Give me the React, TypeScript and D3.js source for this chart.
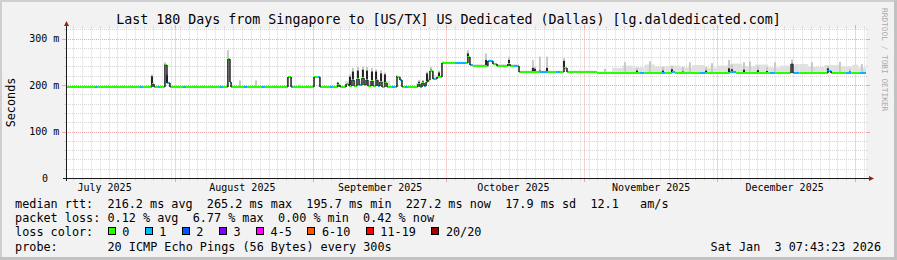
import React from "react";
import * as d3 from "d3";

// ---------------- data ----------------
const START = "2025-07-07T07:43:23";
const END = "2026-01-03T07:43:23";
const TITLE = "Last 180 Days from Singapore to [US/TX] US Dedicated (Dallas) [lg.daldedicated.com]";
const Y_TITLE = "Seconds";
const Y_MAX = 322.6;
const yTickValues = [0, 100, 200, 300];
const yTickLabels = ["0", "100 m", "200 m", "300 m"];

// median rtt (ms) as a step series, with number of lost pings per interval
const medianTimes = [
  "2025-07-07T07:43", "2025-07-13T20:00", "2025-07-14T07:00", "2025-07-23T23:00", "2025-07-24T15:00",
  "2025-07-26T16:00", "2025-07-27T03:00", "2025-07-28T00:00", "2025-07-28T11:00", "2025-07-29T14:00",
  "2025-07-30T01:00", "2025-07-30T17:00", "2025-08-02T15:00", "2025-08-03T08:00", "2025-08-10T23:00",
  "2025-08-11T15:00", "2025-08-12T18:00", "2025-08-13T05:00", "2025-08-13T11:00", "2025-08-16T09:00",
  "2025-08-17T01:00", "2025-08-20T10:00", "2025-08-21T02:00", "2025-08-26T06:00", "2025-08-26T23:00",
  "2025-08-27T09:00", "2025-09-01T03:00", "2025-09-02T00:00", "2025-09-02T11:00", "2025-09-04T17:00",
  "2025-09-05T09:00", "2025-09-06T12:00", "2025-09-06T23:00", "2025-09-08T08:00", "2025-09-09T00:00",
  "2025-09-09T16:00", "2025-09-10T03:00", "2025-09-10T19:00", "2025-09-11T06:00", "2025-09-11T22:00",
  "2025-09-12T09:00", "2025-09-12T20:00", "2025-09-13T06:00", "2025-09-13T23:00", "2025-09-14T09:00",
  "2025-09-15T02:00", "2025-09-15T12:00", "2025-09-15T23:00", "2025-09-16T10:00", "2025-09-17T02:00",
  "2025-09-17T13:00", "2025-09-18T16:00", "2025-09-19T08:00", "2025-09-19T19:00", "2025-09-20T11:00",
  "2025-09-20T22:00", "2025-09-21T14:00", "2025-09-22T06:00", "2025-09-24T12:00", "2025-09-24T23:00",
  "2025-09-25T10:00", "2025-09-25T21:00", "2025-09-26T08:00", "2025-09-26T18:00", "2025-09-27T05:00",
  "2025-09-27T21:00", "2025-09-28T08:00", "2025-09-28T19:00", "2025-09-29T22:00", "2025-10-02T20:00",
  "2025-10-05T08:00", "2025-10-05T18:00", "2025-10-06T05:00", "2025-10-06T21:00", "2025-10-10T06:00",
  "2025-10-11T09:00", "2025-10-12T07:00", "2025-10-14T18:00", "2025-10-15T05:00", "2025-10-16T03:00",
  "2025-10-17T00:00", "2025-10-17T06:00", "2025-10-21T23:00", "2025-10-23T18:00", "2025-10-25T14:00",
  "2025-10-26T11:00", "2025-10-27T09:00", "2025-10-28T01:00", "2025-11-03T19:00", "2025-11-13T11:00",
  "2025-11-14T12:00", "2025-11-18T10:00", "2025-11-19T06:00", "2025-11-20T16:00", "2025-11-21T08:00",
  "2025-11-26T23:00", "2025-11-28T06:00", "2025-12-03T17:00", "2025-12-05T02:00", "2025-12-12T17:00",
  "2025-12-13T23:00", "2025-12-17T11:00", "2025-12-17T21:00", "2025-12-19T08:00", "2025-12-25T18:00",
  "2025-12-26T11:00", "2025-12-29T20:00", "2025-12-31T02:00", "2026-01-01T23:00",
];
const medianMs = [
  196, 196, 196, 196, 196, 203, 196, 196, 196, 245,
  205, 196, 196, 196, 196, 196, 258, 208, 196, 196,
  196, 196, 196, 218, 196, 196, 219, 219, 196, 196,
  196, 202, 196, 204, 198, 212, 200, 214, 201, 216,
  202, 212, 200, 210, 199, 212, 200, 208, 197, 206,
  196, 196, 196, 218, 212, 196, 196, 196, 203, 197,
  205, 198, 207, 212, 231, 213, 213, 218, 248, 248,
  248, 262, 244, 243, 252, 247, 243, 247, 243, 243,
  243, 229, 229, 229, 229, 229, 238, 229, 227, 227,
  227, 227, 227, 229, 227, 227, 227, 229, 227, 227,
  227, 246, 227, 227, 232, 227, 227, 227, 227,
];
const medianLoss = [
  0, 1, 0, 1, 0, 0, 0, 1, 0, 0,
  1, 0, 1, 0, 1, 0, 0, 1, 0, 1,
  0, 1, 0, 0, 1, 0, 0, 1, 0, 1,
  0, 0, 0, 0, 0, 1, 0, 0, 1, 0,
  0, 1, 0, 0, 0, 0, 1, 0, 0, 0,
  0, 1, 0, 0, 1, 0, 1, 0, 0, 0,
  0, 1, 0, 0, 0, 1, 0, 0, 0, 1,
  0, 0, 1, 0, 1, 0, 0, 0, 0, 1,
  0, 0, 1, 0, 1, 0, 0, 0, 0, 1,
  0, 1, 0, 1, 0, 1, 0, 1, 0, 1,
  0, 1, 1, 0, 1, 0, 1, 0, 1,
];

// smoke spikes: dense (dark) top and sparse (light) top in ms
const spikeTimes = [
  "2025-07-26T16:00", "2025-07-29T14:00", "2025-07-30T01:00", "2025-07-30T12:00", "2025-08-12T18:00",
  "2025-08-15T11:00", "2025-08-19T02:00", "2025-08-28T23:00", "2025-09-06T12:00", "2025-09-09T05:00",
  "2025-09-09T21:00", "2025-09-11T00:00", "2025-09-12T03:00", "2025-09-13T01:00", "2025-09-14T04:00",
  "2025-09-15T02:00", "2025-09-16T05:00", "2025-09-17T02:00", "2025-09-19T19:00", "2025-09-24T18:00",
  "2025-09-25T15:00", "2025-09-26T13:00", "2025-09-27T11:00", "2025-09-29T06:00", "2025-09-30T03:00",
  "2025-10-05T18:00", "2025-10-09T20:00", "2025-10-10T17:00", "2025-10-15T00:00", "2025-10-20T09:00",
  "2025-10-20T20:00", "2025-10-21T23:00", "2025-10-23T13:00", "2025-10-27T09:00", "2025-11-05T14:00",
  "2025-11-10T02:00", "2025-11-12T19:00", "2025-11-15T17:00", "2025-11-18T15:00", "2025-11-20T16:00",
  "2025-11-23T03:00", "2025-11-24T17:00", "2025-11-28T08:00", "2025-11-29T16:00", "2025-12-03T12:00",
  "2025-12-04T04:00", "2025-12-06T21:00", "2025-12-08T05:00", "2025-12-10T00:00", "2025-12-12T01:00",
  "2025-12-13T20:00", "2025-12-17T16:00", "2025-12-22T04:00", "2025-12-25T18:00", "2025-12-28T11:00",
  "2025-12-30T17:00", "2026-01-02T10:00",
];
const spikeDark = [
  220, 246, 222, 206, 258, 199, 199, 198, 206, 219,
  230, 232, 234, 232, 230, 230, 226, 224, 220, 208,
  209, 226, 234, 228, 250, 269, 255, 254, 255, 238,
  236, 232, 238, 253, 227, 227, 232, 227, 232, 235,
  230, 227, 232, 227, 237, 235, 234, 227, 233, 231,
  227, 248, 227, 237, 227, 230, 227,
];
const spikeLight = [
  224, 250, 226, 208, 276, 211, 211, 202, 208, 224,
  238, 240, 241, 240, 238, 235, 233, 228, 222, 212,
  212, 230, 240, 232, 252, 276, 269, 256, 262, 255,
  240, 262, 262, 259, 236, 250, 238, 252, 240, 242,
  240, 250, 240, 248, 255, 245, 250, 252, 242, 240,
  250, 256, 250, 242, 251, 236, 246,
];

// upper edge of the light smoke (ms), step series
const hazeTimes = [
  "2025-07-07T07:43", "2025-09-08T02:00", "2025-09-18T05:00", "2025-09-24T02:00", "2025-09-26T13:00",
  "2025-09-29T22:00", "2025-10-06T05:00", "2025-10-17T06:00", "2025-11-03T19:00", "2025-11-07T04:00",
  "2025-11-09T10:00", "2025-11-11T16:00", "2025-11-14T14:00", "2025-11-16T20:00", "2025-11-19T18:00",
  "2025-11-22T11:00", "2025-11-25T04:00", "2025-11-28T02:00", "2025-12-01T00:00", "2025-12-03T17:00",
  "2025-12-06T10:00", "2025-12-09T08:00", "2025-12-12T06:00", "2025-12-14T23:00", "2025-12-18T08:00",
  "2025-12-21T06:00", "2025-12-24T23:00", "2025-12-28T08:00", "2025-12-31T06:00", "2026-01-01T12:00",
];
const hazeTop = [
  198.5, 210, 199, 206, 222, 251, 246, 232, 230, 238,
  243, 239, 245, 241, 243, 239, 244, 238, 243, 247,
  242, 245, 239, 243, 246, 240, 244, 241, 245, 239,
];

const rttStatValues = [216.2, 265.2, 195.7, 227.2];
const statNames = ["avg", "max", "min", "now"];
const rttSd = 17.9;
const rttAmS = 12.1;
const lossStatValues = [0.12, 6.77, 0.0, 0.42];
const lossLabels = ["0", "1", "2", "3", "4-5", "6-10", "11-19", "20/20"];
const lossColors = ["#26ff00", "#00b8ff", "#0059ff", "#7e00ff", "#ff00ff", "#ff5500", "#ff0000", "#a10000"];
const PROBE = "20 ICMP Echo Pings (56 Bytes) every 300s";
const STAMP = "Sat Jan  3 07:43:23 2026";
const WATERMARK = "RRDTOOL / TOBI OETIKER";

// ---------------- drawing ----------------
const parse = (s: string) => new Date(s + (s.length <= 16 ? ":00Z" : "Z"));
const lossIndex = (n: number) =>
  n <= 3 ? n : n <= 5 ? 4 : n <= 10 ? 5 : n <= 19 ? 6 : 7;

const FONT = "'DejaVu Sans Mono', monospace";
const GRID = "#d6d6d6";
const MGRID = "#eda4a4";
const AXIS = "#1a1a1a";
const ARROW = "#a01c1c";

export default function App() {
  const start = parse(START);
  const end = parse(END);
  const x = d3.scaleUtc().domain([start, end]).range([66, 866]);
  const y = d3.scaleLinear().domain([0, Y_MAX]).range([178.5, 28.5]);

  const mT = medianTimes.map(parse);
  const hT = hazeTimes.map(parse);
  const bis = d3.bisector((d: Date) => d).right;
  const medAt = (t: Date) => medianMs[Math.max(0, bis(mT, t) - 1)];
  const hazeAt = (t: Date) => {
    const i = bis(hT, t) - 1;
    return i < 0 ? 0 : hazeTop[i];
  };

  // grid
  const hGrid = d3.range(20, Y_MAX, 20);
  const days = d3.utcDay
    .range(start, end)
    .filter((d) => Math.floor(d.getTime() / 864e5) % 2 === 0 && d.getUTCDate() !== 1);
  const months = d3.utcMonth.range(start, end);
  const labelMonths = d3.utcMonth
    .range(d3.utcMonth.floor(start), end)
    .map((m) => ({ m, pos: x(d3.utcDay.offset(m, 15)) }))
    .filter((o) => o.pos > 66 && o.pos < 866);
  const fmtMonth = d3.utcFormat("%B %Y");

  // haze rects
  const allT = Array.from(new Set([...mT, ...hT].map((d) => +d)))
    .sort((a, b) => a - b)
    .map((v) => new Date(v));
  const hazeRects = allT.map((t0, i) => {
    const t1 = i + 1 < allT.length ? allT[i + 1] : end;
    const top = hazeAt(t0);
    const med = medAt(t0);
    return { x0: x(t0), x1: x(t1), top: Math.max(top, med), med };
  });

  // median segments
  const segs = mT.map((t0, i) => {
    const t1 = i + 1 < mT.length ? mT[i + 1] : end;
    return {
      x0: x(t0),
      x1: x(t1),
      yy: Math.round(y(medianMs[i])),
      color: lossColors[lossIndex(medianLoss[i])],
      next: i + 1 < mT.length ? Math.round(y(medianMs[i + 1])) : null,
    };
  });

  const spikes = spikeTimes.map((s, i) => {
    const t = parse(s);
    return { cx: x(t), dark: spikeDark[i], light: spikeLight[i], med: medAt(t) };
  });

  // legend
  const X0 = 15.1;
  const CW = 7.11;
  const LFS = 11.8;
  const row1 =
    "median rtt:  " +
    rttStatValues.map((v, i) => `${v.toFixed(1)} ms ${statNames[i]}`).join("  ") +
    `  ${rttSd.toFixed(1)} ms sd  ${rttAmS.toFixed(1)}   am/s`;
  const row2 =
    "packet loss: " + lossStatValues.map((v, i) => `${v.toFixed(2)} % ${statNames[i]}`).join("  ");
  const boxes: { bx: number; label: string; color: string }[] = [];
  let bx = X0 + 13 * CW;
  lossLabels.forEach((label, i) => {
    boxes.push({ bx, label, color: lossColors[i] });
    bx = bx + 14.6 + label.length * CW + 15.4;
  });
  const rowY = [208.3, 222.4, 236.4, 250.5];

  const textStyle: React.CSSProperties = { whiteSpace: "pre" };

  return (
    <svg
      width={897}
      height={260}
      style={{ position: "absolute", left: 0, top: 0, display: "block" }}
      fontFamily={FONT}
    >
      {/* background and frame */}
      <rect x={0} y={0} width={897} height={260} fill="#f2f2f2" />
      <rect x={0} y={0} width={897} height={2} fill="#cfcfcf" />
      <rect x={0} y={0} width={2} height={260} fill="#cfcfcf" />
      <rect x={0} y={257} width={897} height={3} fill="#c2c2c2" />
      <rect x={894} y={0} width={3} height={260} fill="#c2c2c2" />

      {/* canvas */}
      <rect x={66} y={28.5} width={800} height={150} fill="#ffffff" />

      {/* horizontal grid */}
      {hGrid.map((v) => {
        const yy = Math.floor(y(v)) + 0.5;
        const major = v % 100 === 0;
        const c = major ? MGRID : GRID;
        const ext = major ? 4 : 2;
        return (
          <g key={"h" + v}>
            <line x1={66} x2={866} y1={yy} y2={yy} stroke={c} strokeDasharray="1,1" />
            <line x1={66 - ext} x2={66} y1={yy} y2={yy} stroke={c} />
            <line x1={866} x2={866 + ext} y1={yy} y2={yy} stroke={c} />
          </g>
        );
      })}
      {/* vertical grid */}
      {days.map((d) => {
        const xx = Math.floor(x(d)) + 0.5;
        return (
          <g key={"d" + +d}>
            <line x1={xx} x2={xx} y1={28.5} y2={178.5} stroke={GRID} strokeDasharray="1,1" />
            <line x1={xx} x2={xx} y1={178.5} y2={180.5} stroke={GRID} />
            <line x1={xx} x2={xx} y1={26.5} y2={28.5} stroke={GRID} />
          </g>
        );
      })}
      {months.map((d) => {
        const xx = Math.floor(x(d)) + 0.5;
        return (
          <g key={"m" + +d}>
            <line x1={xx} x2={xx} y1={28.5} y2={178.5} stroke={MGRID} strokeDasharray="1,1" />
            <line x1={xx} x2={xx} y1={178.5} y2={182} stroke={MGRID} />
            <line x1={xx} x2={xx} y1={25} y2={28.5} stroke={MGRID} />
          </g>
        );
      })}

      {/* light smoke */}
      {hazeRects.map((r, i) =>
        r.top > r.med ? (
          <rect
            key={"hz" + i}
            x={r.x0}
            width={Math.max(0, r.x1 - r.x0)}
            y={y(r.top)}
            height={y(r.med) - y(r.top)}
            fill="#e0e0e0"
          />
        ) : null
      )}
      {spikes.map((s, i) => (
        <rect
          key={"sl" + i}
          x={s.cx - 1}
          width={2}
          y={y(s.light)}
          height={Math.max(0, y(s.med) - y(s.light))}
          fill="#c8c8c8"
        />
      ))}
      {spikes.map((s, i) => (
        <rect
          key={"sd" + i}
          x={s.cx - 1}
          width={2}
          y={y(s.dark)}
          height={Math.max(0, y(s.med) - y(s.dark))}
          fill="#222222"
        />
      ))}

      {/* median line */}
      {segs.map((s, i) => (
        <line key={"ms" + i} x1={s.x0} x2={s.x1} y1={s.yy} y2={s.yy} stroke={s.color} strokeWidth={2} />
      ))}
      {segs.map((s, i) =>
        s.next !== null && Math.abs(s.next - s.yy) > 1 ? (
          <line
            key={"mc" + i}
            x1={s.x1}
            x2={s.x1}
            y1={s.yy}
            y2={s.next}
            stroke="#1e1e1e"
            strokeWidth={1.5}
          />
        ) : null
      )}

      {/* axes */}
      <line x1={63} x2={869} y1={178.5} y2={178.5} stroke={AXIS} />
      <line x1={66.5} x2={66.5} y1={181} y2={25} stroke={AXIS} />
      <polygon points="64,26 69,26 66.5,21" fill={ARROW} />
      <polygon points="869,176 869,181 874,178.5" fill={ARROW} />

      {/* y labels */}
      {yTickValues.map((v, i) => (
        <text
          key={"yl" + v}
          x={v === 0 ? 48 : 59.3}
          y={y(v) + 3.3}
          fontSize={10}
          textAnchor="end"
          fill="#000"
        >
          {yTickLabels[i]}
        </text>
      ))}
      {/* x labels */}
      {labelMonths.map((o) => (
        <text key={"xl" + +o.m} x={o.pos} y={190.5} fontSize={10} textAnchor="middle" fill="#000">
          {fmtMonth(o.m)}
        </text>
      ))}

      {/* titles */}
      <text x={448.5} y={24} fontSize={13.3} textAnchor="middle" fill="#000">
        {TITLE}
      </text>
      <text transform="translate(15,102.5) rotate(-90)" fontSize={LFS} textAnchor="middle" fill="#000">
        {Y_TITLE}
      </text>
      <text transform="translate(882,8) rotate(90)" fontSize={7.8} fill="#a9a9a9">
        {WATERMARK}
      </text>

      {/* legend */}
      <text x={X0} y={rowY[0]} fontSize={LFS} xmlSpace="preserve" style={textStyle} fill="#000">
        {row1}
      </text>
      <text x={X0} y={rowY[1]} fontSize={LFS} xmlSpace="preserve" style={textStyle} fill="#000">
        {row2}
      </text>
      <text x={X0} y={rowY[2]} fontSize={LFS} fill="#000">
        loss color:
      </text>
      {boxes.map((b) => (
        <g key={"lb" + b.label}>
          <rect
            x={Math.round(b.bx) + 0.5}
            y={227.5}
            width={7}
            height={7}
            fill={b.color}
            stroke="#000"
          />
          <text x={b.bx + 14.6} y={rowY[2]} fontSize={LFS} fill="#000">
            {b.label}
          </text>
        </g>
      ))}
      <text x={X0} y={rowY[3]} fontSize={LFS} fill="#000">
        probe:
      </text>
      <text x={X0 + 13 * CW} y={rowY[3]} fontSize={LFS} fill="#000">
        {PROBE}
      </text>
      <text x={881} y={rowY[3]} fontSize={LFS} textAnchor="end" xmlSpace="preserve" style={textStyle} fill="#000">
        {STAMP}
      </text>
    </svg>
  );
}
